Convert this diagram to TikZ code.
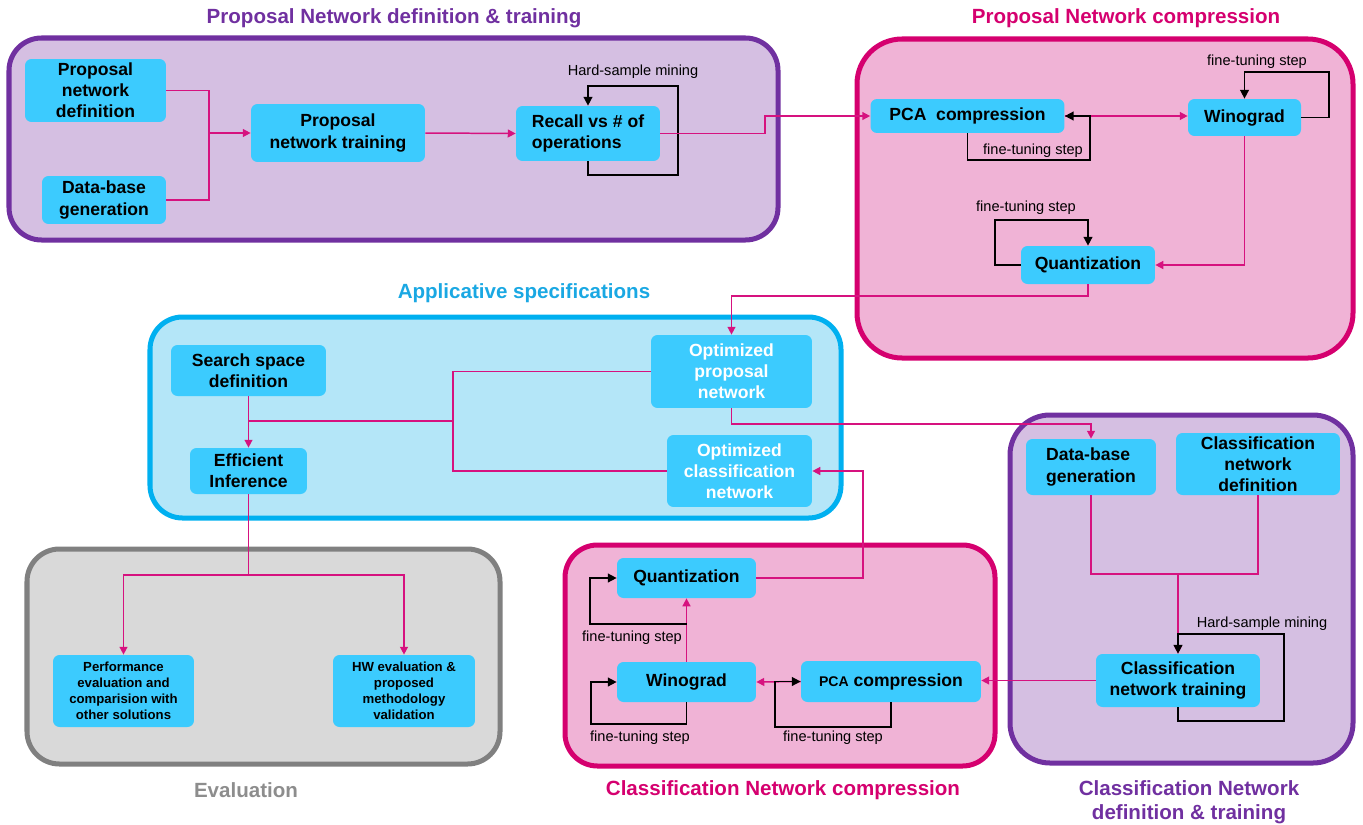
\documentclass[tikz,border=0pt]{standalone}
\usepackage{fontspec}
\setmainfont{Liberation Sans}
\usetikzlibrary{arrows.meta}

\definecolor{purpB}{HTML}{7030A0}
\definecolor{purpF}{HTML}{D5BFE2}
\definecolor{pinkB}{HTML}{D5006F}
\definecolor{pinkF}{HTML}{F0B3D6}
\definecolor{blueB}{HTML}{00B0F0}
\definecolor{blueF}{HTML}{B4E6F8}
\definecolor{grayB}{HTML}{808080}
\definecolor{grayF}{HTML}{D9D9D9}
\definecolor{nodeF}{HTML}{3CCBFE}
\definecolor{link}{HTML}{D6127F}
\definecolor{titleBlue}{HTML}{1AA8E3}

\tikzset{
  group/.style={line width=2.85pt, rounded corners=0.65cm},
  stepbox/.style={fill=nodeF, draw=none, rounded corners=0.13cm, inner sep=0pt,
    font=\bfseries\fontsize{10}{12}\selectfont, align=center},
  smallbox/.style={stepbox, font=\bfseries\fontsize{7.5}{9}\selectfont},
  grouptitle/.style={font=\bfseries\fontsize{11.7}{13.7}\selectfont, align=center},
  note/.style={font=\fontsize{8.3}{10}\selectfont, inner sep=0pt},
  wire/.style={draw=link, line width=0.85pt},
  flow/.style={wire, -{Triangle[length=4.5pt,width=4.5pt]}},
  loopback/.style={draw=black, line width=0.85pt, -{Triangle[length=5pt,width=5pt]}},
}

\begin{document}
\begin{tikzpicture}[x=0.02cm, y=-0.02cm]
\useasboundingbox (0,0) rectangle (1363,825);

% group frames
\draw[group, draw=purpB, fill=purpF] (9,38) rectangle (778,240);
\draw[group, draw=pinkB, fill=pinkF, rounded corners=0.9cm] (857,39) rectangle (1353,358);
\draw[group, draw=blueB, fill=blueF] (150,317) rectangle (841,518);
\draw[group, draw=grayB, fill=grayF] (27,549) rectangle (500,764);
\draw[group, draw=pinkB, fill=pinkF] (565,545) rectangle (995,766);
\draw[group, draw=purpB, fill=purpF, rounded corners=0.8cm] (1010,415) rectangle (1353,763);

% group titles
\node[grouptitle, text=purpB] (t1) at (394,18) {Proposal Network definition \& training};
\node[grouptitle, text=pinkB] (t2) at (1126,18) {Proposal Network compression};
\node[grouptitle, text=titleBlue] (t3) at (524,293) {Applicative specifications};
\node[grouptitle, text=grayB!90] (t4) at (246,790) {Evaluation};
\node[grouptitle, text=pinkB] (t5) at (783,790) {Classification Network compression};
\node[grouptitle, text=purpB] (t6) at (1189,802) {Classification Network\\definition \& training};

% proposal network definition & training
\node[stepbox, minimum width=2.82cm, minimum height=1.26cm] (a1) at (95.5,90.5) {Proposal\\network\\definition};
\node[stepbox, minimum width=2.48cm, minimum height=0.96cm] (a2) at (104,200) {Data-base\\generation};
\node[stepbox, minimum width=3.48cm, minimum height=1.16cm] (a3) at (338,133) {Proposal\\network training};
\node[stepbox, minimum width=2.88cm, minimum height=1.10cm, align=left] (a4) at (588,133.5) {Recall vs \# of\\operations};

% proposal network compression
\node[stepbox, minimum width=3.88cm, minimum height=0.68cm] (b1) at (967.5,116) {PCA\ \ compression};
\node[stepbox, minimum width=2.26cm, minimum height=0.74cm] (b2) at (1244.5,117.5) {Winograd};
\node[stepbox, minimum width=2.68cm, minimum height=0.76cm] (b3) at (1088,265) {Quantization};

% applicative specifications
\node[stepbox, minimum width=3.1cm, minimum height=1.02cm] (c1) at (248.5,370.5) {Search space\\definition};
\node[stepbox, minimum width=2.34cm, minimum height=0.92cm] (c3) at (248.5,471) {Efficient\\Inference};
\node[stepbox, minimum width=3.22cm, minimum height=1.46cm, text=white] (c2) at (731.5,371.5) {Optimized\\proposal\\network};
\node[stepbox, minimum width=2.9cm, minimum height=1.44cm, text=white] (c4) at (739.5,471) {Optimized\\classification\\network};

% evaluation
\node[smallbox, minimum width=2.82cm, minimum height=1.44cm] (e1) at (123.5,691) {Performance\\evaluation and\\comparision with\\other solutions};
\node[smallbox, minimum width=2.84cm, minimum height=1.44cm] (e2) at (404,691) {HW evaluation \&\\proposed\\methodology\\validation};

% classification network definition & training
\node[stepbox, minimum width=2.6cm, minimum height=1.12cm, align=left] (d1) at (1091,467) {Data-base\\generation};
\node[stepbox, minimum width=3.28cm, minimum height=1.24cm] (d2) at (1258,464) {Classification\\network\\definition};
\node[stepbox, minimum width=3.28cm, minimum height=1.06cm] (d3) at (1178,680.5) {Classification\\network training};

% classification network compression
\node[stepbox, minimum width=2.78cm, minimum height=0.8cm] (f1) at (686.5,578) {Quantization};
\node[stepbox, minimum width=2.78cm, minimum height=0.8cm] (f2) at (686.5,682) {Winograd};
\node[stepbox, minimum width=3.6cm, minimum height=0.82cm] (f3) at (891,681.5) {{\fontsize{8}{12}\selectfont PCA} compression};

% loop labels
\node[note] (l1) at (633,72) {Hard-sample mining};
\node[note] (l2) at (1033,151) {fine-tuning step};
\node[note] (l3) at (1257,62) {fine-tuning step};
\node[note] (l4) at (1026,208) {fine-tuning step};
\node[note] (l5) at (1262,624) {Hard-sample mining};
\node[note] (l6) at (632,638) {fine-tuning step};
\node[note] (l7) at (640,738) {fine-tuning step};
\node[note] (l8) at (833,738) {fine-tuning step};

% junction points
\coordinate (j1) at (209,133);
\coordinate (j2) at (453,421);
\coordinate (j3) at (248.5,575);
\coordinate (j4) at (1178,574);

% proposal network flow
\draw[wire] (a1.east) -| (j1) |- (a2.east);
\draw[flow] (j1) -- (a3.west);
\draw[flow] (a3.east) -- (a4.west);
\draw[loopback] (a4.south) |- (678,175) |- (588,86) -- (a4.north);
\draw[flow] (a4.east) -- (765,133.5) |- (b1.west);

\draw[flow] (b1.east) -- (b2.west |- b1.east);
\draw[loopback] (b1.south) |- (1090,160) |- (b1.east);
\draw[loopback] (b2.east) -| (1329,72) -| (b2.north);
\draw[flow] (b2.south) |- (b3.east);
\draw[loopback] (b3.west) -| (995,220) -| (b3.north);
\draw[flow] (b3.south) -- (1088,296) -| (c2.north);

% applicative specifications
\draw[flow] (c1.south) -- (c3.north);
\draw[wire] (c2.west) -| (453,471) -- (c4.west);
\draw[wire] (j2) -- (248.5,421);
\draw[flow] (c2.south) |- (1091,424) -- (d1.north);

% evaluation
\draw[wire] (c3.south) -- (j3);
\draw[flow] (j3) -| (e1.north);
\draw[flow] (j3) -| (e2.north);

% classification network flow
\draw[wire] (d1.south) |- (1258,574) -- (d2.south);
\draw[flow] (j4) -- (d3.north);
\draw[loopback] (d3.south) |- (1284,721) |- (1178,634) -- (d3.north);
\draw[flow] (d3.west) -- (d3.west -| f3.east);

\draw[flow] (f3.west) -- (f2.east);
\draw[loopback] (f3.south) |- (775,727) |- (f3.west);
\draw[loopback] (f2.south) |- (591,724) |- (f2.west);
\draw[flow] (f2.north) -- (f1.south);
\draw[loopback] (686.5,624) -| (590,578) -- (f1.west);
\draw[flow] (f1.east) -| (863,471) -- (c4.east);
\end{tikzpicture}
\end{document}
